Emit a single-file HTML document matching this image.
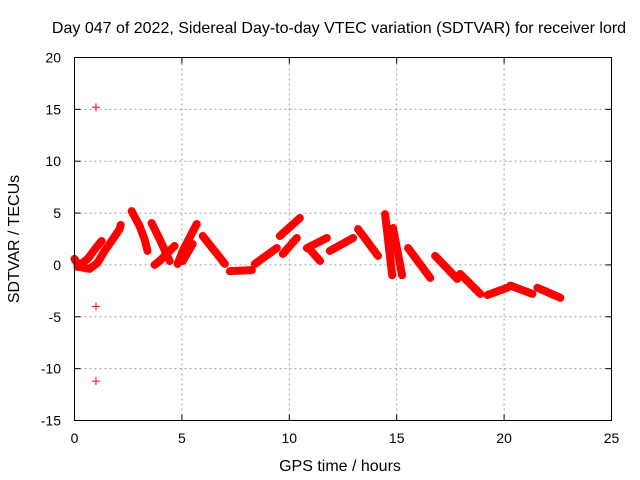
<!DOCTYPE html>
<html><head><meta charset="utf-8"><style>
html,body{margin:0;padding:0;background:#fff}
svg{display:block;font-family:"Liberation Sans",sans-serif}
</style></head><body>
<svg id="chart" width="640" height="480" viewBox="0 0 640 480" xmlns="http://www.w3.org/2000/svg">
<rect width="640" height="480" fill="#fff"/>
<text x="339" y="33" font-size="16" text-anchor="middle" fill="#000">Day 047 of 2022, Sidereal Day-to-day VTEC variation (SDTVAR) for receiver lord</text>
<g id="grid"></g>
<g id="axes"></g>
<g id="marks"></g>
<rect x="74.5" y="57.5" width="537" height="363" fill="none" stroke="#000" stroke-width="1"/>
<text x="340" y="471" font-size="16" text-anchor="middle">GPS time / hours</text>
<text transform="translate(19,239) rotate(-90)" font-size="16" text-anchor="middle">SDTVAR / TECUs</text>
</svg>
<script>
const xTicks=[0,5,10,15,20,25];
const yTicks=[-15,-10,-5,0,5,10,15,20];
const trackTimes=[
[0.0,0.23,0.7,1.07],
[0.14,0.61,1.03,1.26],
[1.07,1.4,1.73,2.1,2.15],
[2.66,3.03,3.26,3.4],
[3.59,3.96,4.43],
[3.73,3.96,4.66],
[4.8,5.04,5.5,5.69],
[5.04,5.5],
[5.97,7.0],
[7.23,8.26],
[8.4,9.42],
[9.56,10.49],
[9.7,10.35],
[10.82,11.75],
[10.96,11.43],
[11.89,12.97],
[13.2,14.13],
[14.46,14.79],
[14.83,15.25],
[15.53,16.56],
[16.79,17.82],
[17.96,18.89],
[19.22,20.15],
[20.29,21.32],
[21.55,22.62]
];
const trackValues=[
[0.58,-0.19,-0.38,0.19],
[-0.19,0.58,1.73,2.31],
[0.19,1.35,2.31,3.46,3.85],
[5.19,3.75,2.5,1.35],
[4.04,2.5,0.38],
[0.0,0.38,1.83],
[0.1,1.35,3.2,3.94],
[0.38,2.02],
[2.79,0.1],
[-0.6,-0.5],
[0.1,1.63],
[2.79,4.52],
[1.06,2.6],
[1.63,2.6],
[1.5,0.38],
[1.35,2.6],
[3.46,0.87],
[4.9,-1.0],
[3.56,-1.0],
[1.63,-1.25],
[0.87,-1.35],
[-0.87,-2.79],
[-2.9,-2.2],
[-2.0,-2.79],
[-2.2,-3.17]
];
const outlierTimes=[1.0,1.0,1.0];
const outlierValues=[15.2,-4.0,-11.2];

const X0=74.5,X1=611.5,Y0=420.5,Y1=57.5;
const xs=t=>X0+(t-0)/(25-0)*(X1-X0);
const ys=v=>Y0-(v+15)/(20+15)*(Y0-Y1);
const NS="http://www.w3.org/2000/svg";
const grid=document.getElementById('grid'),axes=document.getElementById('axes'),marks=document.getElementById('marks');
function mk(tag,attrs,parent){const e=document.createElementNS(NS,tag);for(const k in attrs)e.setAttribute(k,attrs[k]);parent.appendChild(e);return e;}

xTicks.forEach(t=>{
  const x=xs(t);
  if(t>0&&t<25){const g=mk('line',{x1:x,y1:Y0,x2:x,y2:Y1,stroke:'#a0a0a0','stroke-dasharray':'2,3'},grid);
  
  }
  const tk=mk('line',{x1:x,y1:Y0,x2:x,y2:Y0-6,stroke:'#000'},axes);
  
  
  const tk2=mk('line',{x1:x,y1:Y1,x2:x,y2:Y1+6,stroke:'#000'},axes);
  
  
  const l=mk('text',{x:x,y:443,'font-size':14,'text-anchor':'middle'},axes);
  l.textContent=t;
  
  
});
yTicks.forEach(v=>{
  const y=ys(v);
  if(v>-15&&v<20){const g=mk('line',{x1:X0,y1:y,x2:X1,y2:y,stroke:'#a0a0a0','stroke-dasharray':'2,3'},grid);
  
  }
  const tk=mk('line',{x1:X0,y1:y,x2:X0+6,y2:y,stroke:'#000'},axes);
  
  
  const tk2=mk('line',{x1:X1,y1:y,x2:X1-6,y2:y,stroke:'#000'},axes);
  
  
  const l=mk('text',{x:61,y:y+5,'font-size':14,'text-anchor':'end'},axes);
  l.textContent=v;
  
  
});
trackTimes.forEach((ts,i)=>{
  const pts=ts.map((t,j)=>xs(t)+','+ys(trackValues[i][j])).join(' ');
  const p=mk('polyline',{points:pts,fill:'none',stroke:'#ff0000','stroke-width':8,'stroke-linejoin':'round','stroke-linecap':'round'},marks);
  
  
});
outlierTimes.forEach((t,i)=>{
  const x=xs(t),y=ys(outlierValues[i]);
  const p=mk('path',{d:`M${x-4},${y}H${x+4}M${x},${y-4}V${y+4}`,stroke:'#ff0000','stroke-width':1},marks);
  
  
});
</script>
</body></html>
